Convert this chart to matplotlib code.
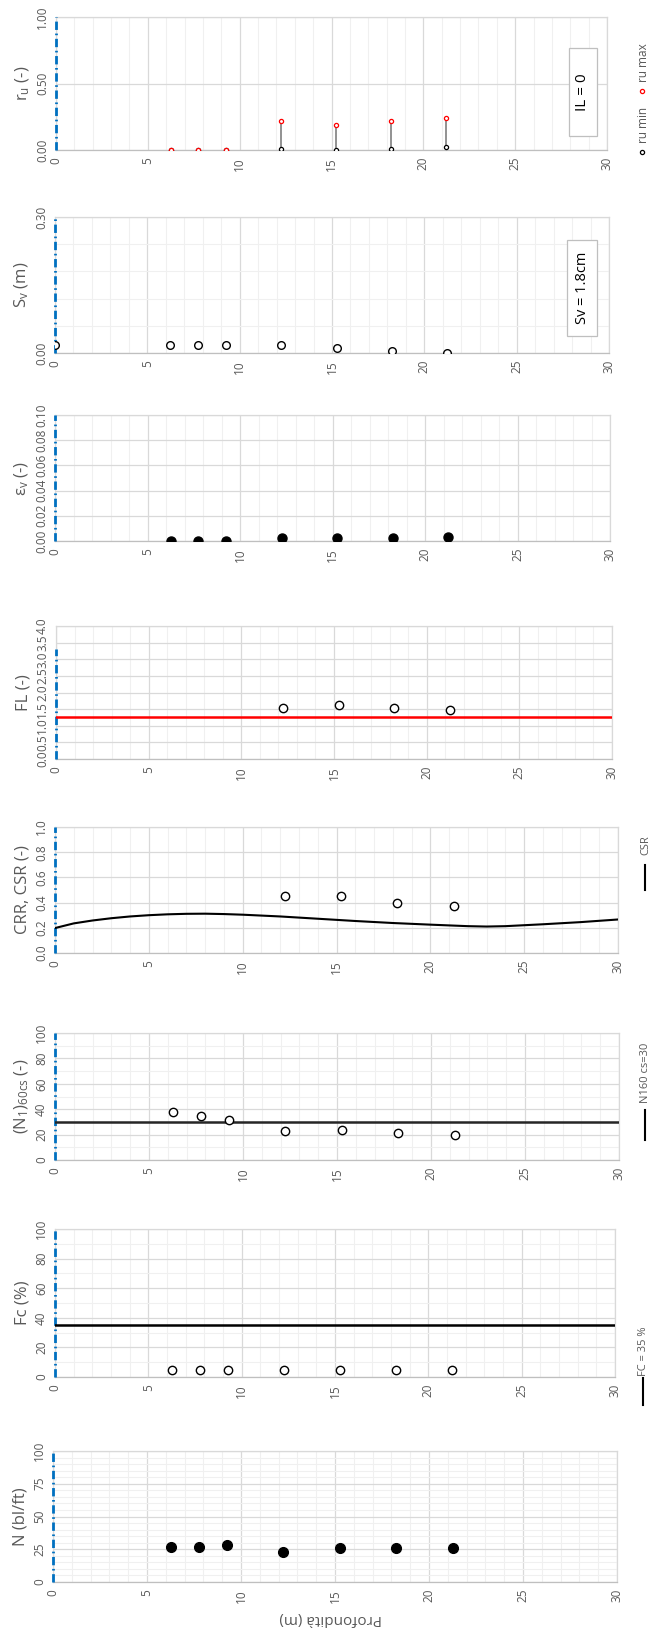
import matplotlib
matplotlib.use("Agg")

import matplotlib.pyplot as plt
from matplotlib.lines import Line2D
from matplotlib.patches import Rectangle
from matplotlib.ticker import MultipleLocator, FormatStrFormatter

plt.rcParams["font.family"] = ["Open Sans", "DejaVu Sans"]
plt.rcParams["mathtext.default"] = "regular"

W, H = 649, 1632

# ── data ─────────────────────────────────────────────────────────────
depth = [6.25, 7.75, 9.25, 12.25, 15.25, 18.25, 21.25]
n_spt = [27, 27, 28, 23, 26, 26, 26]
fines = [5, 5, 5, 5, 5, 5, 5]
fc_limit = 35
n160cs = [37.6, 34.5, 31.8, 22.6, 23.7, 21.1, 19.5]
n160_limit = 30

liq_depth = [12.25, 15.25, 18.25, 21.25]
crr = [0.45, 0.45, 0.40, 0.37]
fl = [1.52, 1.61, 1.52, 1.46]
fl_limit = 1.25

csr_depth = [0, 1, 2, 3, 4, 5, 6, 7, 8, 9, 10, 12, 14, 16, 18, 20, 22, 23, 24, 26, 28, 30]
csr = [0.198, 0.235, 0.258, 0.276, 0.290, 0.300, 0.307, 0.311, 0.312, 0.309, 0.304,
       0.290, 0.272, 0.254, 0.238, 0.225, 0.213, 0.210, 0.213, 0.228, 0.245, 0.266]

eps_v = [0.0, 0.0, 0.0, 0.002, 0.002, 0.002, 0.003]
sv_depth = [0, 6.25, 7.75, 9.25, 12.25, 15.25, 18.25, 21.25]
sv = [0.018, 0.018, 0.018, 0.018, 0.018, 0.011, 0.005, 0.0]
ru_min = [0.0, 0.0, 0.0, 0.01, 0.0, 0.01, 0.02]
ru_max = [0.0, 0.0, 0.0, 0.216, 0.185, 0.216, 0.24]

GRID_MAJ = "#d9d9d9"
GRID_MIN = "#f0f0f0"
TXT = "#595959"
BLUE = "#0070c0"


def fig_box(l, t, r, b):
    return [l / W, 1 - b / H, (r - l) / W, (b - t) / H]


def fx(x):
    return x / W


def fy(y):
    return 1 - y / H


def make_panel(fig, box, ymax, major, minor, fmt, ylabel, blue_top=None):
    ax = fig.add_axes(fig_box(*box))
    ax.set_xlim(0, 30)
    ax.set_ylim(0, ymax)
    ax.xaxis.set_major_locator(MultipleLocator(5))
    ax.xaxis.set_minor_locator(MultipleLocator(1))
    ax.yaxis.set_major_locator(MultipleLocator(major))
    if minor:
        ax.yaxis.set_minor_locator(MultipleLocator(minor))
    ax.yaxis.set_major_formatter(FormatStrFormatter(fmt))
    ax.grid(which="minor", color=GRID_MIN, lw=0.8)
    ax.grid(which="major", color=GRID_MAJ, lw=0.9)
    ax.set_axisbelow(True)
    ax.tick_params(which="both", length=0, labelsize=8.5, labelcolor=TXT)
    ax.tick_params(axis="x", pad=5, labelrotation=90)
    ax.tick_params(axis="y", pad=5, labelrotation=90)
    for lab in ax.get_yticklabels():
        lab.set_va("center")
    for sp in ax.spines.values():
        sp.set_color(GRID_MAJ)
        sp.set_linewidth(0.9)
    ax.spines["bottom"].set_color("#bfbfbf")
    ax.set_ylabel(ylabel, fontsize=12, color=TXT, labelpad=3)
    top = ymax if blue_top is None else blue_top
    ax.plot([0, 0], [0, top], color=BLUE, lw=2.0, dashes=(3, 1.3, 0.6, 1.3),
            clip_on=False, zorder=3)
    return ax


def hollow(ax, x, y, ms=6):
    ax.plot(x, y, "o", ms=ms, mfc="white", mec="black", mew=1.0, ls="none", zorder=4)


def info_box(fig, l, t, r, b, text, size):
    fig.add_artist(Rectangle((fx(l), fy(b)), fx(r) - fx(l), fy(t) - fy(b),
                             transform=fig.transFigure, fc="white", ec="#bfbfbf", lw=0.9))
    fig.text(fx((l + r) / 2), fy((t + b) / 2), text, rotation=90, ha="center",
             va="center", fontsize=size, color="black")


def legend_line(fig, x, y0, y1, ytext, text, color="black"):
    fig.add_artist(Line2D([fx(x), fx(x)], [fy(y1), fy(y0)], transform=fig.transFigure,
                          color=color, lw=1.5))
    fig.text(fx(x - 5), fy(ytext), text, rotation=90, ha="left", va="center",
             fontsize=8, color=TXT)


fig = plt.figure(figsize=(W / 100, H / 100), dpi=100)

# ── r_u ──────────────────────────────────────────────────────────────
ax = make_panel(fig, (56, 17, 607, 150), 1.0, 0.5, None, "%.2f", "r$_u$ (-)")
ax.vlines(depth, ru_min, ru_max, color="#7f7f7f", lw=1.2, zorder=3)
ax.plot(depth, ru_min, "o", ms=3, mfc="white", mec="black", mew=0.9, ls="none", zorder=4)
ax.plot(depth, ru_max, "o", ms=3, mfc="white", mec="red", mew=0.9, ls="none", zorder=5)
info_box(fig, 569, 48, 597, 136, "IL = 0", 11)
for y_mark, y_txt, col, lab in [(152, 125, "black", "ru min"), (91, 63, "red", "ru max")]:
    fig.add_artist(Line2D([fx(642)], [fy(y_mark)], transform=fig.transFigure, marker="o",
                          ms=3, mfc="white", mec=col, mew=0.9, ls="none"))
    fig.text(fx(637), fy(y_txt), lab, rotation=90, ha="left", va="center",
             fontsize=8.5, color=TXT)

# ── S_v ──────────────────────────────────────────────────────────────
ax = make_panel(fig, (55, 217, 609, 353), 0.30, 0.30, 0.06, "%.2f", "S$_v$ (m)")
hollow(ax, sv_depth, sv, ms=5.5)
info_box(fig, 567, 240, 597, 336, "Sv = 1.8cm", 10.5)

# ── eps_v ────────────────────────────────────────────────────────────
ax = make_panel(fig, (55, 415, 610, 541), 0.10, 0.02, None, "%.2f", "ε$_v$ (-)")
ax.plot(depth, eps_v, "o", ms=6.5, color="black", ls="none", zorder=4)

# ── FL ───────────────────────────────────────────────────────────────
ax = make_panel(fig, (56, 626, 612, 759), 4.0, 0.5, None, "%.1f", "FL (-)", blue_top=3.3)
ax.axhline(fl_limit, color="red", lw=1.8, zorder=3)
hollow(ax, liq_depth, fl)

# ── CRR / CSR ────────────────────────────────────────────────────────
ax = make_panel(fig, (55, 827, 618, 953), 1.0, 0.2, None, "%.1f", "CRR, CSR (-)")
ax.plot(csr_depth, csr, color="black", lw=1.5, zorder=3)
hollow(ax, liq_depth, crr)
legend_line(fig, 645, 865, 890, 845, "CSR")

# ── (N1)60cs ─────────────────────────────────────────────────────────
ax = make_panel(fig, (55, 1033, 619, 1160), 100, 20, 10, "%d", "(N$_1$)$_{60cs}$ (-)")
ax.axhline(n160_limit, color="#262626", lw=1.8, zorder=3)
hollow(ax, depth, n160cs)
legend_line(fig, 645, 1110, 1140, 1073, "N160 cs=30")

# ── Fc ───────────────────────────────────────────────────────────────
ax = make_panel(fig, (55, 1229, 615, 1377), 100, 20, 10, "%d", "Fc (%)")
ax.axhline(fc_limit, color="black", lw=1.8, zorder=3)
hollow(ax, depth, fines)
legend_line(fig, 643, 1378, 1405, 1351, "FC = 35 %")

# ── N SPT ────────────────────────────────────────────────────────────
ax = make_panel(fig, (53, 1451, 617, 1582), 100, 25, 5, "%d", "N (bl/ft)")
ax.plot(depth, n_spt, "o", ms=7, color="black", ls="none", zorder=4)
fig.text(fx(331), fy(1618), "Profondità (m)", rotation=180, ha="center", va="center",
         fontsize=11, color=TXT)

fig.savefig("out.png", dpi=100)
